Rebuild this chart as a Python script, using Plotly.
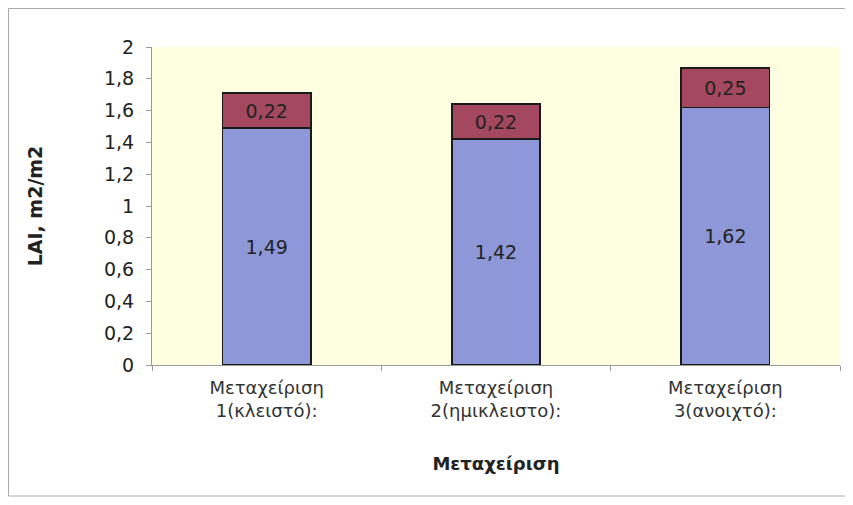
import plotly.graph_objects as go

categories = ["Μεταχείριση<br>1(κλειστό):", "Μεταχείριση<br>2(ημικλειστο):", "Μεταχείριση<br>3(ανοιχτό):"]
lower_values = [1.49, 1.42, 1.62]
upper_values = [0.22, 0.22, 0.25]
y_ticks = [0, 0.2, 0.4, 0.6, 0.8, 1, 1.2, 1.4, 1.6, 1.8, 2]

font_family = "DejaVu Sans, Liberation Sans, Arial, sans-serif"

PW, PH = 688, 318  # plot area size in px

fig = go.Figure()
fig.add_trace(go.Bar(
    x=categories, y=lower_values,
    marker=dict(color="#8E97D7", line=dict(color="#1a1a1a", width=1.8)),
    texttemplate="%{y:.2f}", textposition="inside", insidetextanchor="middle",
    textfont=dict(size=19, color="#222", family=font_family),
    width=0.385, showlegend=False,
))
fig.add_trace(go.Bar(
    x=categories, y=upper_values,
    marker=dict(color="#A3485F", line=dict(color="#1a1a1a", width=1.8)),
    texttemplate="%{y:.2f}", textposition="inside", insidetextanchor="middle",
    textfont=dict(size=19, color="#222", family=font_family),
    width=0.385, showlegend=False,
))

fig.update_layout(
    barmode="stack",
    width=845, height=497,
    margin=dict(l=144, r=13, t=39, b=140, autoexpand=False),
    paper_bgcolor="white",
    plot_bgcolor="#FEFEE0",
    separators=",.",
    font=dict(family=font_family, size=19, color="#222"),
    xaxis=dict(
        showline=True, linecolor="#999", linewidth=1,
        ticks="outside", tickson="boundaries", ticklen=5, tickcolor="#999",
        ticklabelstandoff=6,
        tickfont=dict(size=18, color="#333"),
        title=dict(text="<b>Μεταχείριση</b>", font=dict(size=18, color="#222"), standoff=37),
    ),
    yaxis=dict(
        range=[0, 2], tickvals=y_ticks, tickformat=".1~f",
        showline=True, linecolor="#999", linewidth=1,
        ticks="outside", ticklen=5, tickcolor="#999",
        ticklabelstandoff=8,
        showgrid=False, zeroline=False,
        tickfont=dict(size=19, color="#222"),
        title=dict(text="<b>LAI, m2/m2</b>", font=dict(size=19, color="#222"), standoff=56),
    ),
    shapes=[dict(type="rect", xref="paper", yref="paper",
                 x0=-143.5 / PW, x1=1 + 6 / PW, y0=-131 / PH, y1=1 + 38.5 / PH,
                 line=dict(color="#aaa", width=1))],
)

fig.write_html("out.html")
